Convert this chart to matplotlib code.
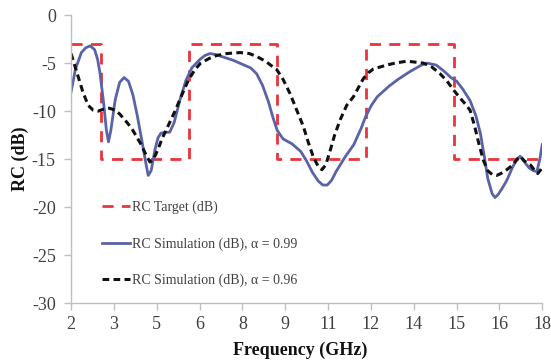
import matplotlib
matplotlib.use("Agg")
import matplotlib.pyplot as plt
import numpy as np

# Target mask
target_f = [2, 3, 3, 6, 6, 9, 9, 12, 12, 15, 15, 18]
target_db = [-3, -3, -15, -15, -3, -3, -15, -15, -3, -3, -15, -15]

# Simulation alpha = 0.99
sim99_f = [2.0, 2.15, 2.35, 2.5, 2.65, 2.8, 2.9, 2.98, 3.1, 3.2, 3.27, 3.35, 3.5, 3.65, 3.8, 3.95,
           4.1, 4.25, 4.4, 4.55, 4.62, 4.72, 4.85, 4.95, 5.05, 5.2, 5.35, 5.5, 5.7, 5.9, 6.1, 6.38,
           6.55, 6.72, 6.9, 7.2, 7.5, 7.8, 8.1, 8.3, 8.5, 8.7, 8.85, 9.0, 9.2, 9.5, 9.8, 10.0, 10.2,
           10.4, 10.55, 10.7, 10.85, 11.0, 11.3, 11.6, 11.85, 12.0, 12.2, 12.4, 12.8, 13.1, 13.5, 13.9,
           14.1, 14.4, 14.65, 14.9, 15.1, 15.3, 15.55, 15.75, 15.9, 16.05, 16.15, 16.3, 16.4, 16.5,
           16.65, 16.8, 17.0, 17.15, 17.25, 17.4, 17.55, 17.7, 17.82, 17.92, 18.0]
sim99_db = [-8.0, -5.6, -3.9, -3.4, -3.2, -3.6, -4.6, -6.0, -9.0, -12.0, -13.2, -12.0, -8.8, -7.0, -6.5, -6.9,
            -8.3, -10.5, -13.0, -15.6, -16.7, -16.2, -14.0, -12.8, -12.3, -12.2, -12.2, -11.2, -8.8, -6.8, -5.5, -4.6,
            -4.2, -4.0, -4.1, -4.4, -4.7, -5.1, -5.5, -6.1, -7.3, -9.0, -10.6, -12.0, -12.9, -13.4, -14.2, -15.2, -16.4,
            -17.3, -17.7, -17.7, -17.2, -16.3, -14.8, -13.5, -11.8, -10.6, -9.4, -8.5, -7.4, -6.7, -5.9, -5.2,
            -5.0, -5.2, -5.8, -6.5, -6.9, -7.7, -8.9, -10.5, -12.3, -15.0, -17.0, -18.6, -19.0, -18.7,
            -18.0, -17.2, -15.8, -15.0, -14.7, -15.3, -15.9, -16.2, -16.3, -15.0, -13.5]

# Simulation alpha = 0.96
sim96_f = [2.0, 2.1, 2.24, 2.4, 2.58, 2.75, 2.92, 3.1, 3.3, 3.5, 3.65, 3.85, 4.06, 4.25, 4.4, 4.55,
           4.68, 4.8, 4.95, 5.1, 5.3, 5.53, 5.75, 5.98, 6.2, 6.4, 6.7, 6.95, 7.3, 7.74, 8.05, 8.3,
           8.6, 8.99, 9.2, 9.44, 9.65, 9.89, 10.05, 10.23, 10.4, 10.52, 10.65, 10.8, 10.95, 11.14,
           11.36, 11.59, 11.75, 11.93, 12.1, 12.27, 12.5, 12.72, 13.0, 13.4, 13.7, 13.97, 14.25,
           14.53, 14.75, 14.99, 15.2, 15.4, 15.55, 15.7, 15.85, 16.0, 16.15, 16.3, 16.45, 16.6,
           16.8, 17.0, 17.15, 17.25, 17.4, 17.6, 17.75, 17.85, 17.95, 18.0]
sim96_db = [-4.0, -5.0, -6.4, -8.0, -9.4, -9.9, -10.0, -9.8, -9.7, -9.9, -10.3, -11.0, -11.8, -12.8, -13.6, -14.6,
            -15.3, -15.0, -14.0, -12.8, -11.5, -10.0, -8.4, -6.8, -5.7, -5.0, -4.5, -4.2, -4.0, -3.9, -4.0, -4.3,
            -4.8, -5.7, -6.7, -8.2, -9.8, -11.6, -13.2, -14.8, -15.8, -16.1, -15.6, -14.1, -12.5, -10.9,
            -9.4, -8.5, -7.6, -6.6, -6.0, -5.6, -5.4, -5.2, -5.0, -4.8, -4.9, -5.0, -5.4,
            -6.1, -6.8, -7.8, -8.6, -9.3, -9.9, -11.5, -13.4, -15.1, -16.2, -16.6, -16.7, -16.5,
            -16.1, -15.6, -15.0, -14.7, -15.2, -15.6, -16.2, -16.5, -16.1, -15.8]

xtick_labels = ['2', '3', '5', '6', '8', '9', '11', '12', '14', '15', '16', '18']
ytick_values = [0, -5, -10, -15, -20, -25, -30]

plt.rcParams['font.family'] = ['Liberation Serif', 'DejaVu Serif']

fig = plt.figure(figsize=(5.51, 3.60), dpi=100)
ax = fig.add_axes([0.129, 0.158, 0.855, 0.80])

ax.plot(target_f, target_db, color='#e8343a', lw=2.0, linestyle=(0, (4, 3)),
        label='RC Target (dB)')
ax.plot(sim99_f, sim99_db, color='#5a62a8', lw=2.0, solid_joinstyle='round',
        label='RC Simulation (dB), \u03b1 = 0.99')
ax.plot(sim96_f, sim96_db, color='#111111', lw=2.2, linestyle=(0, (2.2, 1.4)),
        label='RC Simulation (dB), \u03b1 = 0.96')

ax.set_xlim(2, 18)
ax.set_ylim(-30, 0)
ax.set_xticks(np.linspace(2, 18, len(xtick_labels)))
ax.set_xticklabels(xtick_labels)
ax.set_yticks(ytick_values)
ax.set_yticklabels([str(v) for v in ytick_values])

for s in ['top', 'right']:
    ax.spines[s].set_visible(False)
for s in ['left', 'bottom']:
    ax.spines[s].set_color('#bfbfbf')
    ax.spines[s].set_linewidth(1.0)
ax.tick_params(axis='both', colors='#bfbfbf', labelcolor='#404040', labelsize=13,
               length=5, width=1.0, direction='out')
ax.tick_params(axis='y', pad=6)
ax.tick_params(axis='x', pad=4)

ax.set_xlabel('Frequency (GHz)', fontsize=13, fontweight='bold', color='#111111', labelpad=4)
ax.xaxis.set_label_coords(0.487, -0.135)
ax.set_ylabel('RC (dB)', fontsize=13, fontweight='bold', color='#111111', labelpad=2)

leg = fig.legend(loc='upper left', bbox_to_anchor=(0.185, 0.442), frameon=False,
                 fontsize=10, labelspacing=1.64, handlelength=2.0, handletextpad=0.15,
                 borderpad=0, borderaxespad=0)
for t in leg.get_texts():
    t.set_color('#404040')

fig.savefig('out.png', dpi=100)
